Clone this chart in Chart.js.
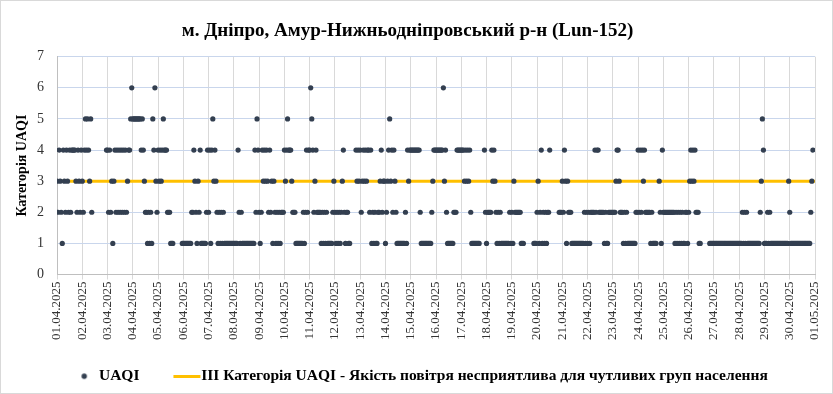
<!DOCTYPE html>
<html>
<head>
<meta charset="utf-8">
<script src="https://cdn.jsdelivr.net/npm/chart.js@4.4.1/dist/chart.umd.min.js"></script>
<style>
    html, body { margin: 0; padding: 0; background: #fff; }
    #wrap { width: 833px; height: 394px; }
</style>
</head>
<body>
<div id="wrap"><canvas id="uaqiChart" width="833" height="394"></canvas></div>
<script>
// Chart texts
const chartTitle = 'м. Дніпро, Амур-Нижньодніпровський р-н (Lun-152)';
const yTitle = 'Категорія UAQI';
const seriesNames = ['UAQI', 'III Категорія UAQI - Якість повітря несприятлива для чутливих груп населення'];

// Day labels on the x axis (one tick every 24 hours)
const dateLabels = [
    '01.04.2025', '02.04.2025', '03.04.2025', '04.04.2025', '05.04.2025', '06.04.2025',
    '07.04.2025', '08.04.2025', '09.04.2025', '10.04.2025', '11.04.2025', '12.04.2025',
    '13.04.2025', '14.04.2025', '15.04.2025', '16.04.2025', '17.04.2025', '18.04.2025',
    '19.04.2025', '20.04.2025', '21.04.2025', '22.04.2025', '23.04.2025', '24.04.2025',
    '25.04.2025', '26.04.2025', '27.04.2025', '28.04.2025', '29.04.2025', '30.04.2025',
    '01.05.2025'
];

const n = null;
const uaqi = [
    3, 2, 4, 3, 2, 1, 4, 3, 2, 4, 3, 2, 4, 2, 4, 4, 4, 4, 3, 2, 4, 3, 2, 4,
    3, 2, 4, 5, 4, 5, 4, 3, 5, 2, n, n, n, n, n, n, n, n, n, n, n, n, n, 4,
    4, 2, 4, 2, 3, 1, 3, 4, 2, 4, 2, 4, 2, 4, 2, 4, 2, 4, 2, 3, 4, 4, 5, 6,
    5, 5, 5, 5, 5, 5, 5, 5, 4, 5, 4, 3, 2, 2, 1, 2, 1, 2, 1, 5, 4, 6, 3, 2,
    4, 3, 4, 3, 4, 5, 4, 4, 4, 2, 2, 2, 1, 1, 1, n, n, n, n, n, n, n, n, 1,
    1, 1, 1, 1, 1, 1, 1, 1, 2, 2, 4, 3, 2, 1, 3, 2, 4, 1, 1, 1, 1, 1, 2, 4,
    2, 4, 1, 4, 5, 3, 4, 3, 2, 1, 2, 1, 2, 1, 2, 1, 1, 1, 1, 1, 1, 1, 1, 1,
    1, 1, 1, 1, 4, 2, 1, 2, 1, 1, 1, 1, 1, 1, 1, 1, 1, 1, 1, 1, 4, 2, 5, 4,
    2, 1, 2, 4, 3, 4, 3, 4, 3, 2, 4, 2, 3, 1, 3, 2, 1, 2, 1, 2, 1, 2, 2, 2,
    4, 3, 4, 5, 4, 4, 4, 3, 2, 2, 2, 1, 1, 1, 1, 1, 1, 1, 2, 1, 2, 4, 2, 4,
    4, 6, 5, 4, 2, 3, 4, 2, 2, 2, 2, 1, 2, 1, 2, 1, 2, 1, 1, 1, 1, 1, 2, 3,
    2, 1, 2, 1, 2, 1, 2, 3, 4, 2, 1, 2, 2, 1, 1, n, n, n, n, n, 4, 3, 4,
    3, 4, 2, 3, 4, 3, 4, 3, 4, 4, 2, 4, 1, 2, 1, 2, 1, 1, 2, 2, 3, 4, 2, 3,
    3, 1, 2, 3, 4, 5, 3, 4, 2, 4, 3, 2, 1, 1, 1, 1, 1, 1, 1, 1, 2, 1, 4, 3,
    4, 4, 4, 4, 4, 4, 4, 4, 4, 4, 2, 1, 1, 1, 1, 1, 1, 1, 1, 1, 1, 2, 3, 4,
    4, 4, 4, 4, 4, 4, 4, 4, 6, 3, 4, 2, 1, 1, 1, 1, 1, 1, 2, 2, 2, 4, 4, 4,
    4, 4, 4, 4, 3, 4, 3, 4, 3, 4, 2, 1, 1, 1, 1, 1, 1, 1, 1, n, n, n, n, 4,
    2, 1, 2, 2, 2, 2, 4, 3, 4, 3, 2, 1, 2, 1, 2, 1, 1, 1, 1, 1, 1, 1, 1, 2,
    1, 2, 1, 3, 2, 2, 2, 2, 2, 2, 1, 1, 1, n, n, n, n, n, n, n, n, n, 1,
    1, 1, 2, 3, 1, 2, 4, 1, 2, 1, 2, 1, 2, 2, 4, n, n, n, n, n, n, n, n, 2,
    2, 2, 3, 2, 4, 3, 1, 3, 2, 2, 2, 1, 1, 1, 1, 1, 1, 1, 1, 1, 1, 1, 1, 2,
    1, 2, 1, 2, 1, 2, 2, 2, 2, 4, 2, 4, 4, 2, 2, 2, 2, 2, 1, 2, 1, 1, 2, 2,
    2, 2, 2, 2, 2, 3, 4, 4, 3, 2, 2, 2, 1, 2, 1, 2, 1, 1, 1, 1, 1, 1, 1, 1,
    2, 2, 4, 2, 4, 2, 4, 3, 4, 2, 2, 2, 2, 2, 1, 2, 1, 1, 1, 1, n, n, 3, 2,
    1, 4, 2, 2, 2, 2, 2, 2, 2, 2, 2, 2, 2, 1, 2, 1, 2, 1, 2, 1, 2, 1, 1, 2,
    2, 1, 2, 3, 4, 3, 4, 3, 4, 2, 2, 2, 1, 1, n, n, n, n, n, n, n, n, 1,
    1, 1, 1, 1, 1, 1, 1, 1, 1, 1, 1, 1, 1, 1, 1, 1, 1, 1, 1, 1, 1, 1, 1, 1,
    1, 1, 1, 1, 1, 1, 2, 1, 2, 1, 2, 1, 1, 1, 1, 1, 1, 1, 1, 1, 1, 1, 1, 2,
    3, 5, 4, 1, 1, 1, 2, 1, 2, 1, 1, 1, 1, 1, 1, 1, 1, 1, 1, 1, 1, 1, 1, 1,
    1, 1, 3, 2, 1, 1, 1, 1, 1, 1, 1, 1, 1, 1, 1, 1, 1, 1, 1, 1, 1, 1, 1, 2, 3, 4
];

// Category III threshold line
const thresholdHours = [0, 720];
const thresholdLevel = [3, 3];

// Build scatter points (x = hour since 01.04.2025 00:00)
const uaqiPoints = [];
uaqi.forEach((v, h) => {
    if (v !== null) uaqiPoints.push({ x: h, y: v });
});
const thresholdPoints = thresholdHours.map((h, i) => ({ x: h, y: thresholdLevel[i] }));

// Legend marks: small canvases, drawn centred in a 44px legend box
function makeMark(height, draw) {
    const cv = document.createElement('canvas');
    cv.width = 100;
    cv.height = height;
    draw(cv.getContext('2d'));
    return cv;
}
const dotMark = makeMark(8, c => {
    c.fillStyle = '#333F50';
    c.beginPath();
    c.arc(65, 4, 2.7, 0, Math.PI * 2);
    c.fill();
});
const lineMark = makeMark(3, c => {
    c.fillStyle = '#FFC000';
    c.fillRect(52, 0, 27, 3);
});
const legendMarks = [dotMark, lineMark];

// White background and thin outer frame
const framePlugin = {
    id: 'frame',
    beforeDraw(chart) {
        const c = chart.ctx;
        c.save();
        c.fillStyle = '#ffffff';
        c.fillRect(0, 0, chart.width, chart.height);
        c.restore();
    },
    afterDraw(chart) {
        const c = chart.ctx;
        c.save();
        c.strokeStyle = '#d9d9d9';
        c.lineWidth = 1;
        c.strokeRect(0.5, 0.5, chart.width - 1, chart.height - 1);
        c.restore();
    }
};

const serif = 'Liberation Serif';

new Chart(document.getElementById('uaqiChart'), {
    type: 'scatter',
    data: {
        datasets: [{
            label: seriesNames[0],
            data: uaqiPoints,
            pointStyle: 'circle',
            pointRadius: 2.6,
            pointHoverRadius: 2.6,
            borderWidth: 0,
            backgroundColor: '#333F50',
            borderColor: '#333F50',
            showLine: false
        }, {
            label: seriesNames[1],
            data: thresholdPoints,
            showLine: true,
            borderColor: '#FFC000',
            backgroundColor: '#FFC000',
            borderWidth: 3,
            pointRadius: 0,
            pointHoverRadius: 0
        }]
    },
    options: {
        responsive: false,
        animation: false,
        layout: { padding: { left: 0, right: 18, top: 0, bottom: 0 } },
        scales: {
            x: {
                type: 'linear',
                min: 0,
                max: 720,
                afterFit: s => { s.height = 84; },
                ticks: {
                    stepSize: 24,
                    autoSkip: false,
                    minRotation: 90,
                    maxRotation: 90,
                    padding: 2,
                    color: '#333',
                    font: { family: serif, size: 13 },
                    callback: v => dateLabels[Math.round(v / 24)]
                },
                grid: { color: '#d9d9d9', tickLength: 5 },
                border: { color: '#bfbfbf' }
            },
            y: {
                min: 0,
                max: 7,
                afterFit: s => { s.width = 57; },
                ticks: {
                    stepSize: 1,
                    padding: 13,
                    color: '#333',
                    font: { family: serif, size: 14 }
                },
                grid: { color: '#c9d6ec', drawTicks: false },
                border: { color: '#bfbfbf' },
                title: {
                    display: true,
                    text: yTitle,
                    color: '#000',
                    font: { family: serif, size: 14, weight: 'bold' },
                    padding: { top: 14, bottom: 0 }
                }
            }
        },
        plugins: {
            title: {
                display: true,
                text: chartTitle,
                color: '#000',
                font: { family: serif, size: 19, weight: 'bold' },
                padding: { top: 19.6, bottom: 14.3 }
            },
            legend: {
                position: 'bottom',
                labels: {
                    usePointStyle: true,
                    pointStyleWidth: 44,
                    boxHeight: 8,
                    padding: 10,
                    color: '#000',
                    font: { family: serif, size: 15.5, weight: 'bold' },
                    generateLabels(chart) {
                        const items = Chart.defaults.plugins.legend.labels.generateLabels(chart);
                        return items.map((item, i) => Object.assign(item, { pointStyle: legendMarks[i] }));
                    }
                }
            },
            tooltip: { enabled: false }
        }
    },
    plugins: [framePlugin]
});
</script>
</body>
</html>
